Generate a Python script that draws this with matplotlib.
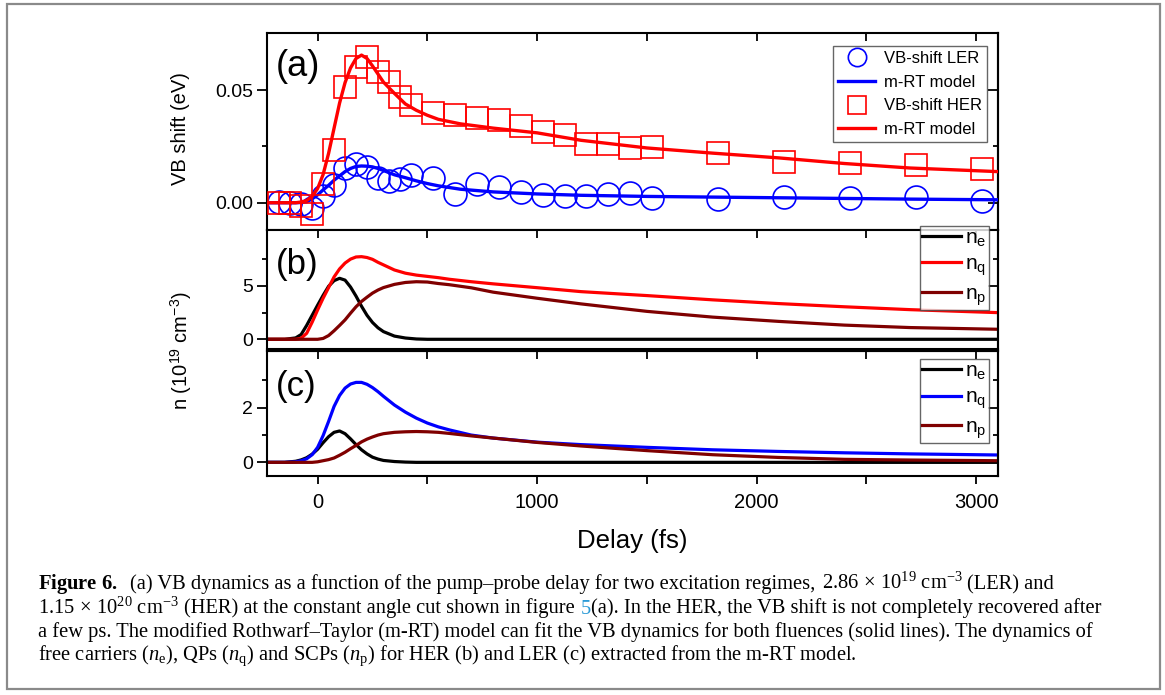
import matplotlib
matplotlib.use("Agg")
import matplotlib.pyplot as plt
from matplotlib.patches import Rectangle

plt.rcParams["font.family"] = ["Liberation Sans", "DejaVu Sans"]
plt.rcParams["mathtext.fontset"] = "custom"
plt.rcParams["mathtext.rm"] = "Liberation Serif"
plt.rcParams["mathtext.it"] = "Liberation Serif:italic"
plt.rcParams["mathtext.bf"] = "Liberation Serif:bold"
plt.rcParams["mathtext.sf"] = "Liberation Sans"

# ---- (a) measured VB shift (eV) ----
t_meas = [-175, -125, -75, -25, 25, 75, 125, 175, 225, 275, 325, 375, 425, 525, 625,
          725, 825, 925, 1025, 1125, 1225, 1325, 1425, 1525, 1825, 2125, 2425, 2725, 3025]
vb_ler = [0.0003, 0.0, -0.0005, -0.0022, 0.003, 0.008, 0.0153, 0.017, 0.0158, 0.011,
          0.0095, 0.0105, 0.0125, 0.0108, 0.004, 0.0082, 0.0071, 0.0049, 0.0034, 0.003,
          0.003, 0.0039, 0.0044, 0.0019, 0.0016, 0.0027, 0.0022, 0.0027, 0.0008]
vb_her = [0.0, 0.0, -0.0015, -0.0048, 0.0083, 0.0232, 0.0512, 0.0602, 0.0648, 0.058,
          0.0537, 0.0469, 0.0435, 0.0397, 0.0388, 0.0375, 0.0365, 0.034, 0.0312, 0.030,
          0.0262, 0.026, 0.0241, 0.0248, 0.0219, 0.0182, 0.0175, 0.0167, 0.0151]

# ---- (a) m-RT model curves ----
t_fit = [-230, -150, -100, -75, -50, -25, 0, 25, 50, 75, 100, 125, 150, 175, 200, 225,
         250, 275, 300, 350, 400, 450, 500, 550, 650, 800, 1000, 1200, 1500, 1800,
         2100, 2400, 2700, 3100]
fit_ler = [0.0, 0.0, 0.0, 0.0001, 0.0004, 0.0017, 0.0035, 0.0057, 0.0077, 0.010, 0.0119,
           0.0138, 0.0152, 0.0161, 0.0163, 0.0162, 0.0159, 0.0152, 0.0143, 0.0124,
           0.0111, 0.0097, 0.0085, 0.0075, 0.006, 0.0048, 0.0039, 0.0033, 0.0028,
           0.0025, 0.0022, 0.0019, 0.0016, 0.0013]
fit_her = [0.0, 0.0, 0.0, 0.0003, 0.001, 0.0028, 0.0063, 0.0125, 0.0219, 0.0331, 0.0442,
           0.0533, 0.0598, 0.064, 0.0655, 0.064, 0.0607, 0.0571, 0.0535, 0.0485, 0.0438,
           0.041, 0.0388, 0.037, 0.035, 0.0331, 0.031, 0.0277, 0.0243, 0.022, 0.0199,
           0.0174, 0.0154, 0.0138]

# ---- (b), (c) carrier densities (1e19 cm^-3) ----
t_n = [-230, -150, -100, -75, -50, -25, 0, 25, 50, 75, 100, 125, 150, 175, 200, 225,
       250, 275, 300, 350, 400, 450, 500, 550, 600, 700, 800, 1000, 1200, 1500, 1800,
       2100, 2400, 2700, 3100]
her_ne = [0.0, 0.0, 0.13, 0.45, 1.3, 2.25, 3.2, 4.12, 4.97, 5.5, 5.72, 5.55, 4.9, 4.05,
          3.1, 2.25, 1.58, 1.08, 0.72, 0.3, 0.12, 0.03, 0.0, 0.0, 0.0, 0.0, 0.0, 0.0,
          0.0, 0.0, 0.0, 0.0, 0.0, 0.0, 0.0]
her_nq = [0.0, 0.0, 0.0, 0.1, 0.56, 1.6, 2.75, 3.85, 4.85, 5.85, 6.6, 7.15, 7.52, 7.72,
          7.75, 7.67, 7.5, 7.22, 6.98, 6.5, 6.2, 6.02, 5.9, 5.78, 5.63, 5.4, 5.2, 4.84,
          4.47, 4.1, 3.7, 3.35, 3.05, 2.78, 2.5]
her_np = [0.0, 0.0, 0.0, 0.0, 0.0, 0.0, 0.0, 0.08, 0.35, 0.8, 1.3, 1.82, 2.45, 3.05,
          3.55, 3.95, 4.33, 4.62, 4.85, 5.15, 5.33, 5.4, 5.37, 5.23, 5.12, 4.83, 4.42,
          3.85, 3.32, 2.62, 2.08, 1.68, 1.33, 1.1, 0.94]
ler_ne = [0.0, 0.0, 0.04, 0.09, 0.17, 0.3, 0.48, 0.72, 0.94, 1.1, 1.15, 1.05, 0.86, 0.65,
          0.46, 0.31, 0.19, 0.12, 0.07, 0.03, 0.01, 0.0, 0.0, 0.0, 0.0, 0.0, 0.0, 0.0,
          0.0, 0.0, 0.0, 0.0, 0.0, 0.0, 0.0]
ler_nq = [0.0, 0.0, 0.02, 0.06, 0.13, 0.28, 0.55, 0.98, 1.5, 2.05, 2.45, 2.72, 2.87, 2.93,
          2.93, 2.86, 2.74, 2.59, 2.42, 2.1, 1.84, 1.62, 1.44, 1.3, 1.19, 1.0, 0.89, 0.74,
          0.65, 0.55, 0.46, 0.4, 0.35, 0.31, 0.27]
ler_np = [0.0, 0.0, 0.0, 0.0, 0.0, 0.0, 0.02, 0.06, 0.1, 0.16, 0.26, 0.37, 0.5, 0.62,
          0.75, 0.85, 0.93, 1.0, 1.05, 1.1, 1.12, 1.13, 1.12, 1.1, 1.06, 0.97, 0.89, 0.73,
          0.6, 0.43, 0.28, 0.18, 0.11, 0.085, 0.06]

x_ticks = [0, 500, 1000, 1500, 2000, 2500, 3000]
x_labels = ["0", "", "1000", "", "2000", "", "3000"]

RED = "#ff0000"
BLUE = "#0000ff"
MAROON = "#7f0000"

W_PX, H_PX = 1165, 695
fig = plt.figure(figsize=(W_PX / 100, H_PX / 100), dpi=100)

x0, x1 = 266.7, 998.0


def box(top, bottom):
    return [x0 / W_PX, 1 - bottom / H_PX, (x1 - x0) / W_PX, (bottom - top) / H_PX]


ax_a = fig.add_axes(box(33, 230))
ax_b = fig.add_axes(box(230, 349))
ax_c = fig.add_axes(box(351, 476))


def style(ax, ylim, yticks, yminor, ylabels, bottom):
    ax.set_xlim(-232, 3100)
    ax.set_ylim(*ylim)
    for s in ax.spines.values():
        s.set_linewidth(1.5)
    ax.set_yticks(yticks)
    ax.set_yticklabels(ylabels)
    ax.set_yticks(yminor, minor=True)
    ax.tick_params(axis="y", which="major", direction="out", length=7, width=1.3,
                   labelsize=14, pad=3)
    ax.tick_params(axis="y", which="minor", direction="out", length=3.5, width=1.3)
    sec = ax.secondary_yaxis("right")
    sec.set_yticks(yticks)
    sec.set_yticks(yminor, minor=True)
    sec.tick_params(axis="y", which="major", direction="in", length=7, width=1.3,
                    labelright=False)
    sec.tick_params(axis="y", which="minor", direction="in", length=3.5, width=1.3)
    sec.spines["right"].set_linewidth(1.5)
    ax.set_xticks(x_ticks)
    if bottom:
        ax.set_xticklabels(x_labels)
        ax.tick_params(axis="x", direction="out", length=6, width=1.3, labelsize=14.5,
                       pad=6)
        top = ax.secondary_xaxis("top")
        top.set_xticks(x_ticks)
        top.tick_params(axis="x", direction="in", length=6, width=1.3, labeltop=False)
        top.spines["top"].set_linewidth(1.5)
    else:
        ax.tick_params(axis="x", bottom=False, top=True, labelbottom=False,
                       direction="in", length=6, width=1.3)


# (a)
ax_a.plot(t_meas, vb_ler, "o", ms=16.5, mfc="none", mec=BLUE, mew=1.2,
          label="VB-shift LER", zorder=2)
ax_a.plot(t_fit, fit_ler, "-", color=BLUE, lw=2.4, label="m-RT model", zorder=3)
ax_a.plot(t_meas, vb_her, "s", ms=15.5, mfc="none", mec=RED, mew=1.2,
          label="VB-shift HER", zorder=4)
ax_a.plot(t_fit, fit_her, "-", color=RED, lw=2.4, label="m-RT model", zorder=5)
style(ax_a, (-0.0121, 0.0753), [0.0, 0.05], [0.025], ["0.00", "0.05"], False)
leg = ax_a.legend(loc="upper right", bbox_to_anchor=(0.985, 0.934), borderaxespad=0,
                  fontsize=12, frameon=True, fancybox=False, edgecolor="#404040",
                  handlelength=2.2, handletextpad=0.55, labelspacing=0.52,
                  borderpad=0.3, markerscale=0.8)
leg.get_frame().set_linewidth(1.0)
ax_a.text(0.012, 0.92, "(a)", transform=ax_a.transAxes, fontsize=26, va="top", ha="left")

n_labels = [r"$\mathsf{n_{e}}$", r"$\mathsf{n_{q}}$", r"$\mathsf{n_{p}}$"]

# (b)
ax_b.plot(t_n, her_ne, color="black", lw=2.3, label=n_labels[0])
ax_b.plot(t_n, her_nq, color=RED, lw=2.3, label=n_labels[1])
ax_b.plot(t_n, her_np, color=MAROON, lw=2.3, label=n_labels[2])
style(ax_b, (-0.91, 10.25), [0, 5], [2.5, 7.5], ["0", "5"], False)
ax_b.text(0.012, 0.85, "(b)", transform=ax_b.transAxes, fontsize=25, va="top", ha="left")

# (c)
ax_c.plot(t_n, ler_ne, color="black", lw=2.3, label=n_labels[0])
ax_c.plot(t_n, ler_nq, color=BLUE, lw=2.3, label=n_labels[1])
ax_c.plot(t_n, ler_np, color=MAROON, lw=2.3, label=n_labels[2])
style(ax_c, (-0.5, 4.08), [0, 2], [1, 3], ["0", "2"], True)
ax_c.text(0.012, 0.85, "(c)", transform=ax_c.transAxes, fontsize=25, va="top", ha="left")

for ax, top in ((ax_b, 1.036), (ax_c, 0.936)):
    lg = ax.legend(loc="upper right", bbox_to_anchor=(0.9877, top), borderaxespad=0,
                   fontsize=15, frameon=True, fancybox=False, edgecolor="#404040",
                   handlelength=1.85, handletextpad=0.2, labelspacing=0.3,
                   borderpad=0.12)
    lg.get_frame().set_linewidth(1.0)
    lg.set_zorder(10)

fig.text(180 / W_PX, 1 - 129 / H_PX, "VB shift (eV)", rotation=90, fontsize=14.5,
         ha="center", va="center")
fig.text(181 / W_PX, 1 - 351 / H_PX, r"n (10$^{\mathsf{19}}$ cm$^{\mathsf{-3}}$)",
         rotation=90, fontsize=14.5, ha="center", va="center")
fig.text(632 / W_PX, 1 - 541 / H_PX, "Delay (fs)", fontsize=18.5, ha="center",
         va="center")

# caption, drawn piece by piece so the figure link can be coloured
cap_kw = dict(fontsize=14.8, family="Liberation Serif", va="baseline", ha="left")
cx_px = 37.5
renderer = fig.canvas.get_renderer()


def text_end(s, y):
    t = fig.text(cx_px / W_PX, y, s, **cap_kw)
    e = t.get_window_extent(renderer).x1
    t.remove()
    return e


def text_width(s, y):
    t = fig.text(cx_px / W_PX, y, s, **cap_kw)
    w = t.get_window_extent(renderer).width
    t.remove()
    return w


def caption_line(baseline_px, pieces):
    y = 1 - baseline_px / H_PX
    joined = ""
    for sep, txt, col in pieces:
        if joined == "":
            x = cx_px
        else:
            first = txt.lstrip("$")[0]
            x = text_end(joined + sep + first, y) - text_width(first, y)
        fig.text(x / W_PX, y, txt, color=col, **cap_kw)
        joined = joined + sep + txt


caption_line(589, [
    ("", r"$\mathbf{Figure\ 6.}$", "black"),
    ("  ", "(a) VB dynamics as a function of the pump–probe delay for two excitation "
           "regimes,", "black"),
    (" ", r"$2.86\,\times\,10^{19}$ cm$^{-3}$", "black"),
    (" ", "(LER) and", "black"),
])
caption_line(613.5, [
    ("", r"$1.15\,\times\,10^{20}$ cm$^{-3}$", "black"),
    (" ", "(HER) at the constant angle cut shown in figure", "black"),
    (" ", "5", "#2a9ad6"),
    ("", "(a). In the HER, the VB shift is not completely recovered after", "black"),
])
caption_line(637, [
    ("", "a few ps. The modified Rothwarf–Taylor (m-RT) model can fit the VB dynamics "
         "for both fluences (solid lines). The dynamics of", "black"),
])
caption_line(660.5, [
    ("", r"free carriers ($n_\mathrm{e}$), QPs ($n_\mathrm{q}$) and SCPs "
         r"($n_\mathrm{p}$) for HER (b) and LER (c) extracted from the m-RT model.",
     "black"),
])

fig.patches.append(Rectangle((7 / W_PX, 1 - 689 / H_PX), (1160 - 7) / W_PX,
                             (689 - 4) / H_PX, transform=fig.transFigure, fill=False,
                             edgecolor="#8a8a8a", lw=1.6))

fig.savefig("out.png", dpi=100)
